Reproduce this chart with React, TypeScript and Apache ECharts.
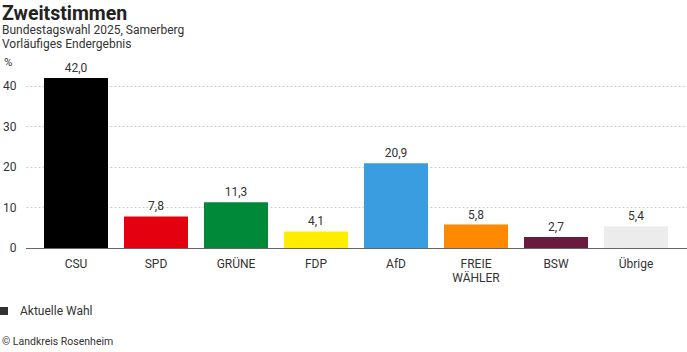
import React, { useEffect, useRef } from "react";
import * as echarts from "echarts";

const categories = ["CSU", "SPD", "GRÜNE", "FDP", "AfD", "FREIE\nWÄHLER", "BSW", "Übrige"];
const values = [42.0, 7.8, 11.3, 4.1, 20.9, 5.8, 2.7, 5.4];
const colors = ["#000000", "#e3000f", "#008939", "#ffed00", "#3a9de0", "#ff8a00", "#6a1a3e", "#ececec"];
const yTicks = [0, 10, 20, 30, 40];

const FONT = "Roboto, 'Noto Sans', sans-serif";

export default function App() {
  const ref = useRef<HTMLDivElement>(null);
  useEffect(() => {
    if (!ref.current) return;
    const chart = echarts.init(ref.current, null, { renderer: "svg" });
    const gridTop = 86;
    const gridHeight = 162;
    const txt = (x: number, y: number, text: string, size: number, weight: string = "normal", fill = "#333") => ({
      type: "text", x, y,
      style: { text, fontSize: size, fontWeight: weight, fill, fontFamily: FONT, verticalAlign: "middle", align: "left" },
    });
    chart.setOption({
      animation: false,
      textStyle: { fontFamily: FONT },
      graphic: [
        txt(2, 13, "Zweitstimmen", 19.5, "bold", "#222"),
        txt(2, 30, "Bundestagswahl 2025, Samerberg", 12),
        txt(2, 44, "Vorläufiges Endergebnis", 12),
        txt(4, 62, "%", 11.5),
        { type: "rect", shape: { x: 0, y: 307, width: 8, height: 8 }, style: { fill: "#333" } },
        txt(20, 311, "Aktuelle Wahl", 12),
        txt(2, 341, "© Landkreis Rosenheim", 10.5),
      ],
      grid: [
        { left: 24, right: 0, top: gridTop, height: gridHeight },
        { left: 36, right: 11, top: gridTop, height: gridHeight },
      ],
      xAxis: [
        {
          gridIndex: 0, type: "value", min: 0, max: 1,
          axisLine: { show: true, onZero: false, lineStyle: { color: "#666", width: 1 } },
          axisTick: { show: false }, axisLabel: { show: false }, splitLine: { show: false },
        },
        {
          gridIndex: 1, type: "category", data: categories,
          axisLine: { show: false }, axisTick: { show: false },
          axisLabel: { color: "#333", fontSize: 12, margin: 9, lineHeight: 14, fontFamily: FONT, interval: 0 },
        },
      ],
      yAxis: [
        {
          gridIndex: 0, type: "value", min: yTicks[0], max: yTicks[yTicks.length - 1], interval: 10,
          axisLine: { show: false }, axisTick: { show: false },
          axisLabel: { color: "#333", fontSize: 12, margin: 10, fontFamily: FONT },
          splitLine: { show: true, lineStyle: { color: "#ccc", type: [2, 2], width: 1 } },
        },
        {
          gridIndex: 1, type: "value", min: yTicks[0], max: yTicks[yTicks.length - 1],
          show: false, splitLine: { show: false },
        },
      ],
      series: [
        {
          type: "bar", name: "Aktuelle Wahl", xAxisIndex: 1, yAxisIndex: 1,
          barWidth: 64, clip: false,
          data: values.map((v, i) => ({ value: v, itemStyle: { color: colors[i] } })),
          label: {
            show: true, position: "top", distance: 4, color: "#333", fontSize: 12, fontFamily: FONT,
            formatter: (p: any) => p.value.toFixed(1).replace(".", ","),
          },
        },
      ],
    });
    return () => chart.dispose();
  }, []);
  return <div ref={ref} style={{ width: 687, height: 352, position: "absolute", left: 0, top: 0 }} />;
}
